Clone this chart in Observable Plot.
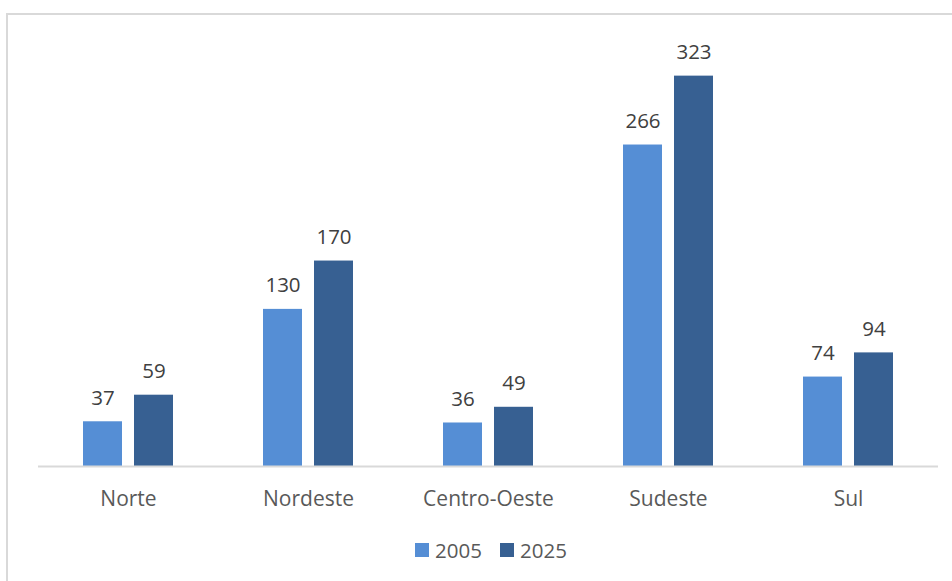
<!DOCTYPE html>
<html>
<head>
<meta charset="utf-8">
<script src="https://cdn.jsdelivr.net/npm/d3@7"></script>
<script src="https://cdn.jsdelivr.net/npm/@observablehq/plot@0.6"></script>
<style>
  html, body { margin: 0; padding: 0; background: #fff; width: 952px; height: 581px; overflow: hidden; }
  #frame { position: absolute; left: 6px; top: 13px; width: 1000px; height: 700px; border: 2px solid #d9d9d9; box-sizing: border-box; }
  #chart { position: absolute; left: 0; top: 0; }
  #legend { position: absolute; left: 0; top: 536px; width: 952px; display: flex; justify-content: center; gap: 18px;
            font-family: "Open Sans", sans-serif; font-size: 20.5px; color: #595959; padding-left: 30px; box-sizing: border-box; }
  .item { display: flex; align-items: center; gap: 6px; }
  .sw { width: 14px; height: 14px; display: inline-block; }
</style>
</head>
<body>
<div id="frame"></div>
<div id="chart"></div>
<div id="legend"></div>
<script>
const regions = ["Norte", "Nordeste", "Centro-Oeste", "Sudeste", "Sul"];
const years = ["2005", "2025"];
const values2005 = [37, 130, 36, 266, 74];
const values2025 = [59, 170, 49, 323, 94];
const colors = ["#558ed5", "#376092"];

const data = [];
regions.forEach((r, i) => {
  data.push({region: r, year: years[0], value: values2005[i]});
  data.push({region: r, year: years[1], value: values2025[i]});
});

const chart = Plot.plot({
  width: 952,
  height: 516,
  marginLeft: 37,
  marginRight: 13,
  marginTop: 43,
  marginBottom: 50,
  style: {fontFamily: "'Open Sans', sans-serif", fontSize: "20px", background: "transparent"},
  fx: {domain: regions, padding: 0, label: null},
  x: {domain: years, paddingInner: 0.2308, paddingOuter: 0.851, axis: null},
  y: {domain: [0, 350], axis: null},
  color: {domain: years, range: colors},
  marks: [
    Plot.barY(data, {fx: "region", x: "year", y: "value", fill: "year"}),
    Plot.ruleY([0], {stroke: "#d9d9d9", strokeWidth: 2}),
    Plot.text(data, {fx: "region", x: "year", y: "value", text: d => String(d.value),
      dy: -17, lineAnchor: "bottom", textAnchor: "middle", fill: "#404040", fontSize: 20.5}),
    Plot.axisFx({anchor: "bottom", tickSize: 0, tickPadding: 25, fontSize: 21, fill: "#595959", label: null})
  ]
});
document.getElementById("chart").appendChild(chart);

const legend = document.getElementById("legend");
years.forEach((y, i) => {
  const it = document.createElement("div");
  it.className = "item";
  const sw = document.createElement("span");
  sw.className = "sw";
  sw.style.background = colors[i];
  const t = document.createElement("span");
  t.textContent = y;
  it.appendChild(sw);
  it.appendChild(t);
  legend.appendChild(it);
});
</script>
</body>
</html>
